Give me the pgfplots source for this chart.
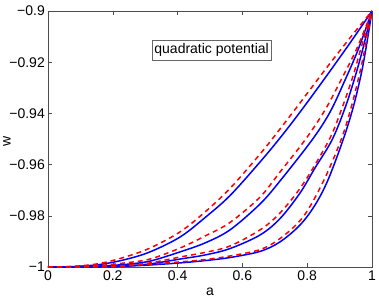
\documentclass[border=0pt]{standalone}
\usepackage{pgfplots}
\pgfplotsset{compat=1.18}
\usepackage{fontspec}
\setmainfont{Liberation Sans}
\begin{document}
\begin{tikzpicture}
\path[use as bounding box] (-48pt,-33pt) rectangle (331pt,267pt);
\begin{axis}[
  scale only axis,
  width=324pt, height=256pt,
  xmin=0, xmax=1, ymin=-1, ymax=-0.9,
  xtick={0,0.2,0.4,0.6,0.8,1},
  xticklabels={0,0.2,0.4,0.6,0.8,1},
  ytick={-1,-0.98,-0.96,-0.94,-0.92,-0.9},
  yticklabels={−1,−0.98,−0.96,−0.94,−0.92,−0.9},
  tick align=inside,
  major tick length=4pt,
  axis line style={draw=black!70, line width=0.9pt},
  tick style={draw=black!70, line width=0.6pt},
  tick label style={font=\fontsize{14}{16}\selectfont, inner sep=1pt},
  yticklabel style={xshift=-2pt},
  xticklabel style={yshift=-3pt},
  xlabel={a}, ylabel={w},
  label style={font=\fontsize{14}{16}\selectfont},
  xlabel style={at={(axis description cs:0.5,0)}, anchor=base, yshift=-28.5pt},
  ylabel style={at={(axis description cs:-0.1265,0.49)}, anchor=center},
  clip=true,
  every axis plot/.append style={smooth, tension=0.55, line width=1.5pt},
]
% blue solid (numerical)
\addplot[blue] coordinates {(0,-1) (0.0833,-0.9998) (0.1605,-0.9990) (0.2377,-0.9971) (0.3148,-0.9941) (0.4074,-0.9883) (0.4846,-0.9807) (0.5617,-0.9721) (0.6543,-0.9590) (0.7160,-0.9496) (0.7778,-0.9395) (0.8549,-0.9262) (0.9321,-0.9125) (1,-0.9)};
\addplot[blue] coordinates {(0,-1) (0.0833,-0.99992) (0.1605,-0.9996) (0.2377,-0.9990) (0.3148,-0.9977) (0.4074,-0.9941) (0.4846,-0.9906) (0.5617,-0.9855) (0.6543,-0.9754) (0.7160,-0.9664) (0.8148,-0.9504) (0.8704,-0.9395) (0.9167,-0.9270) (0.9568,-0.9152) (1,-0.9)};
\addplot[blue] coordinates {(0,-1) (0.1605,-0.9998) (0.2377,-0.9995) (0.3148,-0.9988) (0.4074,-0.9969) (0.4846,-0.9953) (0.5617,-0.9928) (0.6543,-0.9875) (0.7160,-0.9811) (0.7778,-0.9711) (0.8241,-0.9613) (0.8765,-0.9504) (0.9167,-0.9379) (0.9475,-0.9258) (0.9722,-0.9145) (1,-0.9)};
\addplot[blue] coordinates {(0,-1) (0.1605,-0.99998) (0.2377,-0.9997) (0.3148,-0.9992) (0.4074,-0.9984) (0.4846,-0.9975) (0.5617,-0.9963) (0.6543,-0.9939) (0.7160,-0.9902) (0.7778,-0.9836) (0.8241,-0.9758) (0.8642,-0.9660) (0.9105,-0.9504) (0.9414,-0.9379) (0.9660,-0.9250) (0.9815,-0.9145) (1,-0.9)};
% red dashed (approximation)
\addplot[red, dash pattern=on 5pt off 4pt] coordinates {(0,-1) (0.0833,-0.9997) (0.1605,-0.9986) (0.2377,-0.9961) (0.3148,-0.9926) (0.4074,-0.9863) (0.4846,-0.9785) (0.5617,-0.9693) (0.6543,-0.9559) (0.7160,-0.9461) (0.7778,-0.9359) (0.8549,-0.9230) (0.9321,-0.9105) (1,-0.9)};
\addplot[red, dash pattern=on 5pt off 4pt] coordinates {(0,-1) (0.0833,-0.9999) (0.1605,-0.9994) (0.2377,-0.9984) (0.3148,-0.9969) (0.4074,-0.9926) (0.4846,-0.9879) (0.5617,-0.9826) (0.6543,-0.9727) (0.7160,-0.9629) (0.7932,-0.9504) (0.8549,-0.9387) (0.9074,-0.9262) (0.9537,-0.9145) (1,-0.9)};
\addplot[red, dash pattern=on 5pt off 4pt] coordinates {(0,-1) (0.1605,-0.9998) (0.2377,-0.9994) (0.3148,-0.9984) (0.4074,-0.9961) (0.4846,-0.9943) (0.5617,-0.9918) (0.6543,-0.9855) (0.7160,-0.9789) (0.7870,-0.9676) (0.8673,-0.9504) (0.9074,-0.9379) (0.9414,-0.9254) (0.9660,-0.9145) (1,-0.9)};
\addplot[red, dash pattern=on 5pt off 4pt] coordinates {(0,-1) (0.1605,-0.99995) (0.2377,-0.9996) (0.3148,-0.9989) (0.4074,-0.9980) (0.4846,-0.9971) (0.5617,-0.9957) (0.6543,-0.9932) (0.7160,-0.9889) (0.7870,-0.9805) (0.8488,-0.9668) (0.9043,-0.9504) (0.9352,-0.9379) (0.9599,-0.9254) (0.9784,-0.9145) (1,-0.9)};
\node[draw=black!60, fill=white, font=\fontsize{14}{16}\selectfont, inner xsep=2pt, inner ysep=0pt, minimum height=20pt] at (axis cs:0.505,-0.9152) {quadratic potential};
\end{axis}
\end{tikzpicture}
\end{document}
